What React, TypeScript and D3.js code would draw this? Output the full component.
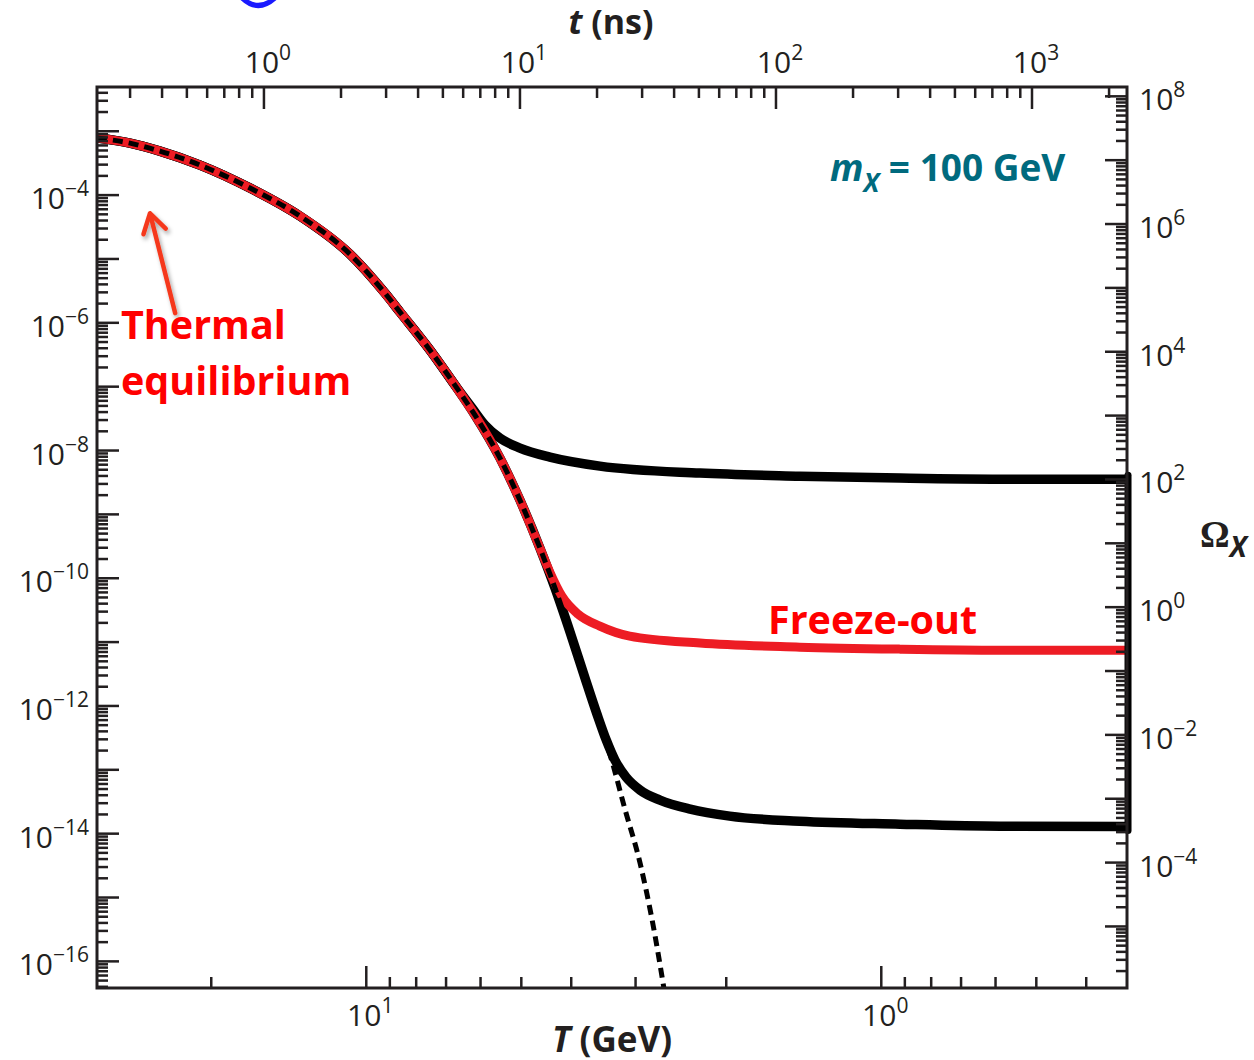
import React from "react";
import * as d3 from "d3";

// ---- chart data -------------------------------------------------------
// Temperature T (GeV) of every sampled point and the abundance Y on the left axis.
const eqT = [33.33, 28.77, 25.16, 21.03, 16.82, 13.45, 10.76, 9.2, 8.6, 7.52, 6.73, 6.15, 5.5, 5.03, 4.6, 4.3, 4.02, 3.76, 3.52, 3.33, 3.15, 2.94, 2.79, 2.62];
const eqY = [7.82e-4, 6.52e-4, 4.89e-4, 2.95e-4, 1.29e-4, 4.69e-5, 1.19e-5, 2.92e-6, 1.47e-6, 3.73e-7, 1.06e-7, 3.58e-8, 7.6e-9, 1.67e-9, 2.96e-10, 7.0e-11, 1.43e-11, 2.72e-12, 5.37e-13, 1.32e-13, 2.51e-14, 3.45e-15, 4.75e-16, 2.47e-17];

// early freeze-out (weak annihilation)
const upperT = [33.33, 28.77, 25.16, 21.03, 16.82, 13.45, 10.76, 9.2, 8.6, 7.52, 6.73, 6.23, 5.88, 5.5, 5.03, 4.4, 3.52, 2.25, 1.44, 0.92, 0.588, 0.3333];
const upperY = [7.82e-4, 6.52e-4, 4.89e-4, 2.95e-4, 1.29e-4, 4.69e-5, 1.19e-5, 2.92e-6, 1.47e-6, 3.73e-7, 1.06e-7, 4.61e-8, 2.5e-8, 1.56e-8, 1.09e-8, 7.88e-9, 5.7e-9, 4.43e-9, 3.97e-9, 3.7e-9, 3.56e-9, 3.56e-9];

// freeze-out giving the observed relic density
const redT = [33.33, 28.77, 25.16, 21.03, 16.82, 13.45, 10.76, 9.2, 8.6, 7.52, 6.73, 6.15, 5.5, 5.03, 4.6, 4.4, 4.17, 3.88, 3.52, 3.08, 2.25, 1.44, 0.92, 0.588, 0.3333];
const redY = [7.82e-4, 6.52e-4, 4.89e-4, 2.95e-4, 1.29e-4, 4.69e-5, 1.19e-5, 2.92e-6, 1.47e-6, 3.73e-7, 1.06e-7, 3.58e-8, 7.6e-9, 1.67e-9, 2.96e-10, 1.24e-10, 5.24e-11, 2.74e-11, 1.78e-11, 1.24e-11, 9.64e-12, 8.34e-12, 7.76e-12, 7.48e-12, 7.48e-12];

// late freeze-out (strong annihilation)
const lowerT = [33.33, 28.77, 25.16, 21.03, 16.82, 13.45, 10.76, 9.2, 8.6, 7.52, 6.73, 6.15, 5.5, 5.03, 4.6, 4.3, 4.02, 3.76, 3.565, 3.42, 3.29, 3.13, 2.94, 2.69, 2.35, 1.97, 1.44, 0.92, 0.588, 0.3333];
const lowerY = [7.82e-4, 6.52e-4, 4.89e-4, 2.95e-4, 1.29e-4, 4.69e-5, 1.19e-5, 2.92e-6, 1.47e-6, 3.73e-7, 1.06e-7, 3.58e-8, 7.6e-9, 1.67e-9, 2.96e-10, 7.0e-11, 1.43e-11, 2.72e-12, 7.45e-13, 2.92e-13, 1.42e-13, 7.67e-14, 4.81e-14, 3.35e-14, 2.42e-14, 1.88e-14, 1.57e-14, 1.41e-14, 1.31e-14, 1.29e-14];

// ---- axes ---------------------------------------------------------------
const T_DOMAIN = [100 / 3, 1 / 3];
const Y_DOMAIN = [Math.pow(10, -16.417), Math.pow(10, -2.307)];
const OMEGA_SHIFT_DECADES = 10.453;
const TIME_DOMAIN = [0.2228, 2350];

const leftLabelExps = [-4, -6, -8, -10, -12, -14, -16];
const rightLabelExps = [8, 6, 4, 2, 0, -2, -4];
const bottomMajor = [10, 1];
const bottomMinor = [20, 9, 8, 7, 6, 5, 4, 3, 2, 0.9, 0.8, 0.7, 0.6, 0.5, 0.4];
const bottomLabelExps = [1, 0];
const topMajor = [1, 10, 100, 1000];
const topMinor = [0.3, 0.4, 0.5, 0.6, 0.7, 0.8, 0.9, 2, 3, 4, 5, 6, 7, 8, 9, 20, 30, 40, 50, 60, 70, 80, 90, 200, 300, 400, 500, 600, 700, 800, 900, 2000];
const topLabelExps = [0, 1, 2, 3];

const W = 1254;
const H = 1060;
const L = 97;
const R = 1127;
const TOP = 87;
const BOT = 988;

const INK = "#231f20";
const SANS = "'Open Sans', 'Noto Sans', sans-serif";

const x = d3.scaleLog().domain(T_DOMAIN).range([L, R]);
const y = d3.scaleLog().domain(Y_DOMAIN).range([BOT, TOP]);
const yOmega = d3
  .scaleLog()
  .domain(Y_DOMAIN.map((v) => v * Math.pow(10, OMEGA_SHIFT_DECADES)))
  .range([BOT, TOP]);
const xTime = d3.scaleLog().domain(TIME_DOMAIN).range([L, R]);

function logTicks(domain: number[]) {
  const lo = Math.min(domain[0], domain[1]);
  const hi = Math.max(domain[0], domain[1]);
  const out: { v: number; major: boolean }[] = [];
  for (let d = Math.floor(Math.log10(lo)); d <= Math.ceil(Math.log10(hi)); d++) {
    for (let k = 1; k <= 9; k++) {
      const v = k * Math.pow(10, d);
      if (v >= lo && v <= hi) out.push({ v, major: k === 1 });
    }
  }
  return out;
}

const fmtExp = (e: number) => (e < 0 ? "\u2212" + Math.abs(e) : String(e));

function Pow({ px, py, exp, anchor }: { px: number; py: number; exp: number; anchor: "start" | "middle" | "end" }) {
  return (
    <text x={px} y={py} textAnchor={anchor} fontFamily={SANS} fontSize={30} fill={INK}>
      10
      <tspan dy={-13} fontSize={21}>
        {fmtExp(exp)}
      </tspan>
    </text>
  );
}

const lineGen = d3
  .line<[number, number]>()
  .x((d) => x(d[0]))
  .y((d) => y(d[1]))
  .curve(d3.curveMonotoneX);

const zip = (a: number[], b: number[]) => a.map((v, i) => [v, b[i]] as [number, number]);

export default function App() {
  const MAJ = 22;
  const MIN = 11;
  const yTicks = logTicks(Y_DOMAIN);
  const oTicks = logTicks(yOmega.domain());

  // arrow from the label up to the equilibrium curve
  const tip = [x(26.3), y(5.2e-5)];
  const tail = [x(23.5), y(1.42e-6)];
  const dx = tail[0] - tip[0];
  const dy = tail[1] - tip[1];
  const len = Math.hypot(dx, dy);
  const ux = dx / len;
  const uy = dy / len;
  const rot = (a: number) => [ux * Math.cos(a) - uy * Math.sin(a), ux * Math.sin(a) + uy * Math.cos(a)];
  const h1 = rot(0.55);
  const h2 = rot(-0.55);
  const HL = 22;

  const lastT = upperT[upperT.length - 1];

  return (
    <svg
      width={W}
      height={H}
      viewBox={`0 0 ${W} ${H}`}
      style={{ position: "absolute", left: 0, top: 0, background: "#fff" }}
    >
      <defs>
        <clipPath id="plot-area">
          <rect x={L} y={TOP} width={R - L} height={BOT - TOP} />
        </clipPath>
        <filter id="soft-shadow" x="-50%" y="-50%" width="200%" height="200%">
          <feDropShadow dx={2} dy={3} stdDeviation={2} floodColor="#000" floodOpacity={0.35} />
        </filter>
      </defs>
      <rect width={W} height={H} fill="#fff" />

      {/* partial blue stroke at the very top */}
      <path d="M 241 -3 Q 258 14 276 -3" fill="none" stroke="#1a1aff" strokeWidth={5} />

      {/* curves */}
      <g clipPath="url(#plot-area)" fill="none">
        <path d={lineGen(zip(upperT, upperY)) || ""} stroke="#000" strokeWidth={9.5} />
        <path d={lineGen(zip(lowerT, lowerY)) || ""} stroke="#000" strokeWidth={9.5} />
        <path d={lineGen(zip(redT, redY)) || ""} stroke="#ed1c24" strokeWidth={9} />
        <path d={lineGen(zip(eqT, eqY)) || ""} stroke="#000" strokeWidth={5} strokeDasharray="10 6" />
      </g>
      {/* vertical join at the right end of the black curves */}
      <line
        x1={x(lastT) + 1}
        x2={x(lastT) + 1}
        y1={y(upperY[upperY.length - 1]) - 4}
        y2={y(lowerY[lowerY.length - 1]) + 4}
        stroke="#000"
        strokeWidth={7}
        strokeLinecap="round"
      />

      {/* frame */}
      <rect x={L} y={TOP} width={R - L} height={BOT - TOP} fill="none" stroke={INK} strokeWidth={3} />

      {/* ticks */}
      <g stroke={INK} strokeWidth={2.5}>
        {yTicks.map((t, i) => (
          <line key={"l" + i} x1={L} x2={L + (t.major ? MAJ : MIN)} y1={y(t.v)} y2={y(t.v)} />
        ))}
        {oTicks.map((t, i) => (
          <line key={"r" + i} x1={R} x2={R - (t.major ? MAJ : MIN)} y1={yOmega(t.v)} y2={yOmega(t.v)} />
        ))}
        {bottomMajor.map((v) => (
          <line key={"bM" + v} x1={x(v)} x2={x(v)} y1={BOT} y2={BOT - MAJ} />
        ))}
        {bottomMinor.map((v) => (
          <line key={"bm" + v} x1={x(v)} x2={x(v)} y1={BOT} y2={BOT - MIN} />
        ))}
        {topMajor.map((v) => (
          <line key={"tM" + v} x1={xTime(v)} x2={xTime(v)} y1={TOP} y2={TOP + MAJ} />
        ))}
        {topMinor.map((v) => (
          <line key={"tm" + v} x1={xTime(v)} x2={xTime(v)} y1={TOP} y2={TOP + MIN} />
        ))}
      </g>

      {/* tick labels */}
      {leftLabelExps.map((e) => (
        <Pow key={"ll" + e} px={89} py={y(Math.pow(10, e)) + 14} exp={e} anchor="end" />
      ))}
      {rightLabelExps.map((e) => (
        <Pow key={"rl" + e} px={1139} py={yOmega(Math.pow(10, e)) + 14} exp={e} anchor="start" />
      ))}
      {bottomLabelExps.map((e) => (
        <Pow key={"bl" + e} px={x(Math.pow(10, e)) + 4} py={1026} exp={e} anchor="middle" />
      ))}
      {topLabelExps.map((e) => (
        <Pow key={"tl" + e} px={xTime(Math.pow(10, e)) + 4} py={73} exp={e} anchor="middle" />
      ))}

      {/* axis titles */}
      <text x={611} y={34} textAnchor="middle" fontFamily={SANS} fontWeight={700} fontSize={34} fill={INK}>
        <tspan fontStyle="italic">t</tspan> (ns)
      </text>
      <text x={612} y={1052} textAnchor="middle" fontFamily={SANS} fontWeight={700} fontSize={35} fill={INK}>
        <tspan fontStyle="italic">T</tspan> (GeV)
      </text>
      <text x={1200} y={547} fontFamily="'Liberation Serif', 'DejaVu Serif', serif" fontWeight={700} fontSize={37} fill={INK}>
        Ω
        <tspan dy={10} fontFamily={SANS} fontStyle="italic" fontSize={28}>
          X
        </tspan>
      </text>

      {/* annotations */}
      <text x={830} y={181} fontFamily={SANS} fontWeight={700} fontSize={37} fill="#006a7e">
        <tspan fontStyle="italic">m</tspan>
        <tspan dy={11} fontStyle="italic" fontSize={26}>
          X
        </tspan>
        <tspan dy={-11}> = 100 GeV</tspan>
      </text>

      <g filter="url(#soft-shadow)" stroke="#f5391c" strokeWidth={4.5} fill="none" strokeLinecap="round" strokeLinejoin="round">
        <line x1={tail[0]} y1={tail[1]} x2={tip[0] + ux * 2} y2={tip[1] + uy * 2} />
        <polyline
          points={`${tip[0] + h1[0] * HL},${tip[1] + h1[1] * HL} ${tip[0]},${tip[1]} ${tip[0] + h2[0] * HL},${tip[1] + h2[1] * HL}`}
        />
      </g>

      <text fontFamily={SANS} fontWeight={700} fontSize={39.5} fill="#ff0000">
        <tspan x={121} y={339}>Thermal</tspan>
        <tspan x={121} y={395}>equilibrium</tspan>
      </text>
      <text x={768} y={634} fontFamily={SANS} fontWeight={700} fontSize={39.5} fill="#ff0000">
        Freeze-out
      </text>
    </svg>
  );
}
